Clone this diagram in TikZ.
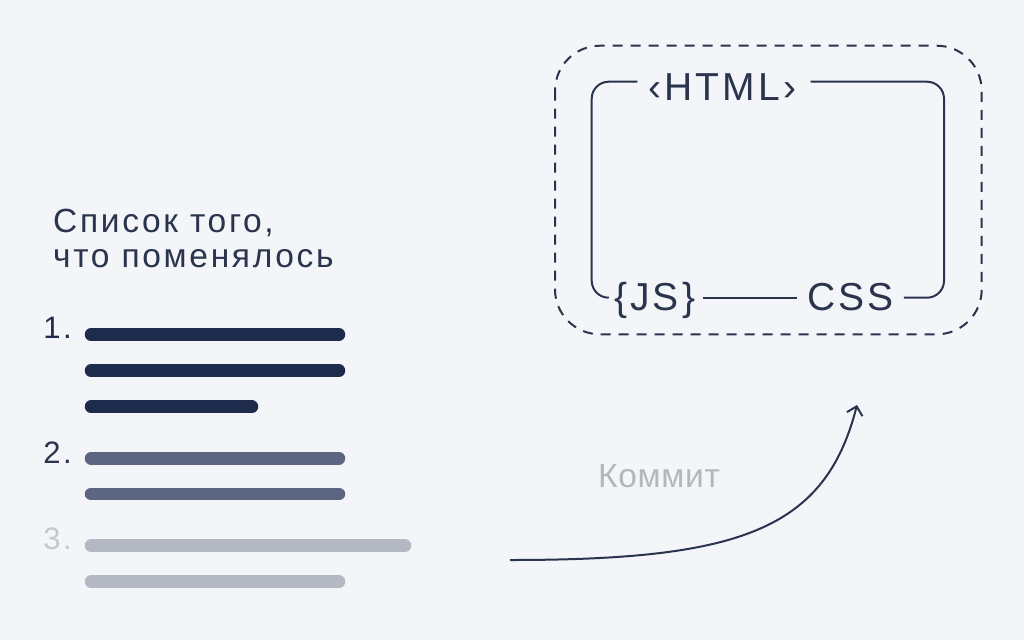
\documentclass[tikz,border=0pt]{standalone}
\usepackage{fontspec}
\setmainfont{Liberation Sans}
\newfontfamily\widefont{Liberation Sans}[LetterSpace=8]
\newfontfamily\midfont{Liberation Sans}[LetterSpace=2]
\usetikzlibrary{calc,arrows.meta}
\definecolor{bg}{HTML}{F3F5F8}
\definecolor{navy}{HTML}{1F2B4D}
\definecolor{framec}{HTML}{2B344D}
\definecolor{midc}{HTML}{5C6680}
\definecolor{lightc}{HTML}{B4B8C3}
\definecolor{greyt}{HTML}{B3B6BC}
\definecolor{numlight}{HTML}{C5C8CE}
\tikzset{
  bar/.style={line width=12.5pt, line cap=round},
  bigtext/.style={inner sep=0pt, text=framec, font=\widefont\fontsize{39}{44}\selectfont},
  numtext/.style={inner sep=0pt, anchor=base east, font=\widefont\fontsize{31}{36}\selectfont},
  frame/.style={draw=framec, line width=2pt},
  dashbox/.style={draw=framec, line width=2pt, dash pattern=on 10pt off 8pt, rounded corners=45pt},
  arrowline/.style={draw=framec, line width=2pt, -{Straight Barb[length=8pt,width=16pt,line width=2pt]}}
}
\begin{document}
\begin{tikzpicture}[x=1pt,y=-1pt]
\fill[bg] (0,0) rectangle (1024,640);

% title (base anchor = baseline of last line)
\node[inner sep=0pt, anchor=base west, align=left, text=framec,
      font=\widefont\fontsize{33.5}{35}\selectfont] (title) at (53,267)
      {Список того,\\что поменялось};

% numbers
\node[numtext, text=navy] (n1) at (72,338) {1.};
\node[numtext, text=framec] (n2) at (72,463) {2.};
\node[numtext, text=numlight] (n3) at (72,549) {3.};

% bars
\draw[bar, navy] (91,334.5) -- (339,334.5);
\draw[bar, navy] (91,370.7) -- (339,370.7);
\draw[bar, navy] (91,406.7) -- (252,406.7);
\draw[bar, midc] (91,458.3) -- (339,458.3);
\draw[bar, midc] (91,494) -- (339,494);
\draw[bar, lightc] (91,545.7) -- (405,545.7);
\draw[bar, lightc] (91,581.7) -- (339,581.7);

% outer dashed box
\draw[dashbox] (555,45.7) rectangle (981.7,334.3);

% inner frame labels
\node[bigtext, anchor=base] (html) at (722.5,100) {‹HTML›};
\node[bigtext, anchor=base west] (js) at (614,310.7) {\{JS\}};
\node[bigtext, anchor=base west] (css) at (807,310.7) {CSS};

\coordinate (tl) at (591.7,81.7);
\coordinate (tr) at (944,81.7);
\coordinate (bl) at (591.7,297.7);
\coordinate (br) at (944,297.7);

\draw[frame, rounded corners=17pt] ($(html.west |- tl)+(-11,0)$) -- (tl) -- (bl) -- ($(js.west |- bl)+(-6,0)$);
\draw[frame] ($(js.east |- bl)+(8,0)$) -- ($(css.west |- bl)+(-10,0)$);
\draw[frame, rounded corners=17pt] ($(css.east |- bl)+(10,0)$) -- (br) -- (tr) -- ($(html.east |- tr)+(14,0)$);

% commit arrow
\node[inner sep=0pt, anchor=base west, text=greyt, font=\midfont\fontsize{33.5}{40}\selectfont] (commit) at (598,487) {Коммит};
\coordinate (cstart) at (510,560);
\coordinate (cend) at (857,405);
\draw[arrowline] (cstart) .. controls (740,560) and (825,530) .. (cend);
\end{tikzpicture}
\end{document}
